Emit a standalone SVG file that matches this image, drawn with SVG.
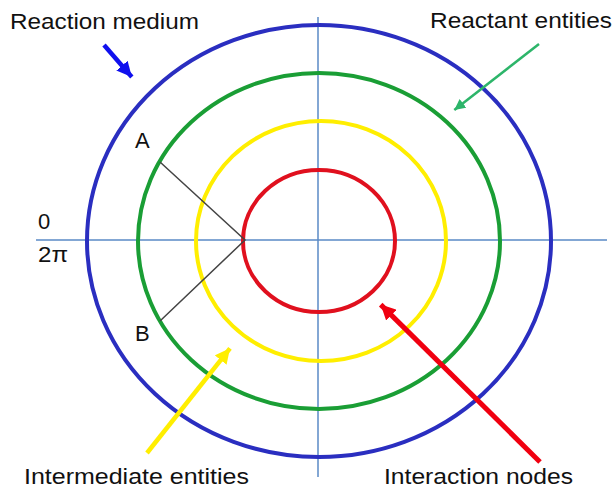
<svg xmlns="http://www.w3.org/2000/svg" width="615" height="491" viewBox="0 0 615 491">
  <style>
    .lbl { font-family: "Liberation Sans", Arial, sans-serif; font-size: 22px; fill: #111; }
    .ring { fill: none; stroke-width: 4; }
    .axis { stroke: #5a8ac6; stroke-width: 1.5; fill: none; }
    .radial { stroke: #444; stroke-width: 1.5; fill: none; }
  </style>
  <defs>
    <marker id="hBlue" viewBox="0 0 10 10" refX="10" refY="5" markerWidth="15" markerHeight="15" markerUnits="userSpaceOnUse" orient="auto"><path d="M0,0 L10,5 L0,10 z" fill="#1010ee"/></marker>
    <marker id="hGreen" viewBox="0 0 10 10" refX="10" refY="5" markerWidth="11" markerHeight="11" markerUnits="userSpaceOnUse" orient="auto"><path d="M0,0 L10,5 L0,10 z" fill="#2db56a"/></marker>
    <marker id="hYellow" viewBox="0 0 10 10" refX="10" refY="5" markerWidth="15" markerHeight="15" markerUnits="userSpaceOnUse" orient="auto"><path d="M0,0 L10,5 L0,10 z" fill="#ffee00"/></marker>
    <marker id="hRed" viewBox="0 0 10 10" refX="10" refY="5" markerWidth="15" markerHeight="15" markerUnits="userSpaceOnUse" orient="auto"><path d="M0,0 L10,5 L0,10 z" fill="#f00010"/></marker>
  </defs>

  <g id="axes">
    <line class="axis" x1="36" y1="240" x2="607" y2="240"/>
    <line class="axis" x1="318" y1="17" x2="318" y2="477"/>
  </g>

  <g id="reaction-medium">
    <ellipse class="ring" cx="319" cy="241" rx="232" ry="216" stroke="#2a2ec0"/>
  </g>
  <g id="reactant-entities">
    <ellipse class="ring" cx="319" cy="241" rx="181" ry="168" stroke="#1a9e35"/>
  </g>
  <g id="intermediate-entities">
    <ellipse class="ring" cx="321" cy="241" rx="125" ry="120" stroke="#ffee00"/>
  </g>
  <g id="interaction-nodes">
    <ellipse class="ring" cx="319" cy="241" rx="76" ry="71" stroke="#e0101e"/>
  </g>

  <g id="radials">
    <polyline class="radial" points="160,162 245,240 160,321"/>
  </g>

  <g id="connectors">
    <line x1="104" y1="45" x2="131.8" y2="77" stroke="#1010ee" stroke-width="4.5" marker-end="url(#hBlue)"/>
    <line x1="539" y1="44" x2="454.3" y2="110.1" stroke="#2db56a" stroke-width="2.5" marker-end="url(#hGreen)"/>
    <line x1="147" y1="453" x2="230" y2="348.3" stroke="#ffee00" stroke-width="4.5" marker-end="url(#hYellow)"/>
    <line x1="540" y1="462" x2="380.7" y2="304.6" stroke="#f00010" stroke-width="5" marker-end="url(#hRed)"/>
  </g>

  <g id="labels">
    <text class="lbl" x="10" y="29" textLength="189" lengthAdjust="spacingAndGlyphs">Reaction medium</text>
    <text class="lbl" x="430" y="28" textLength="182" lengthAdjust="spacingAndGlyphs">Reactant entities</text>
    <text class="lbl" x="38" y="229">0</text>
    <text class="lbl" x="38" y="262" textLength="30" lengthAdjust="spacingAndGlyphs">2π</text>
    <text class="lbl" x="135" y="148">A</text>
    <text class="lbl" x="135" y="341">B</text>
    <text class="lbl" x="24" y="484" textLength="225" lengthAdjust="spacingAndGlyphs">Intermediate entities</text>
    <text class="lbl" x="384" y="484" textLength="189" lengthAdjust="spacingAndGlyphs">Interaction nodes</text>
  </g>
</svg>
